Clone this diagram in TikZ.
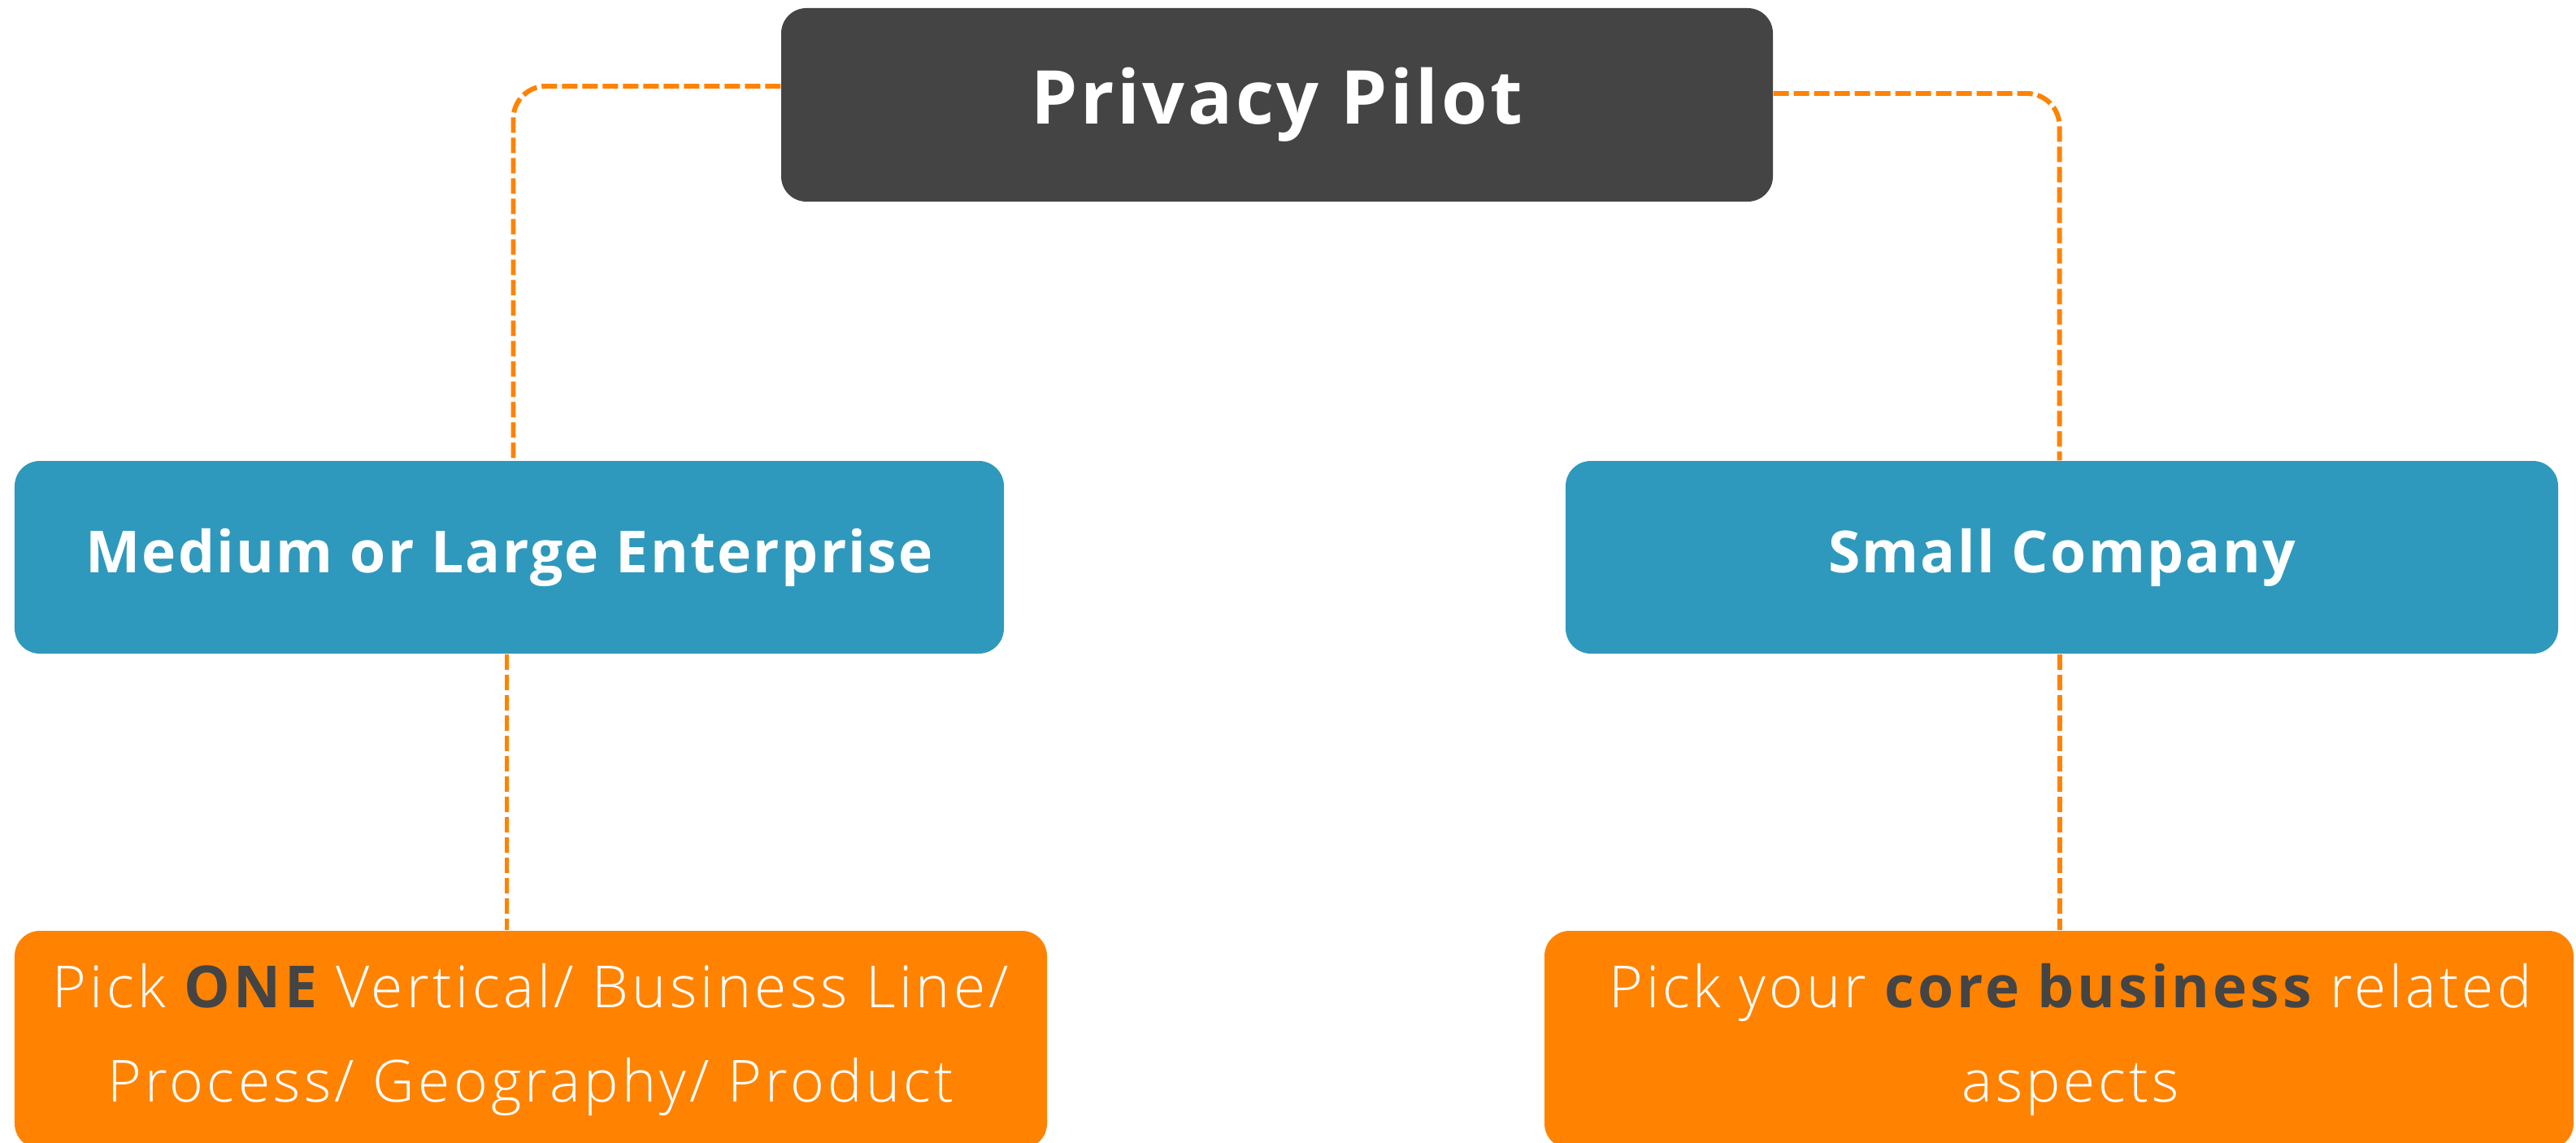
\documentclass[tikz,border=0pt]{standalone}
\usepackage{fontspec}
\setmainfont{Open Sans}
\newfontfamily\lightfont{Open Sans Light}
\usetikzlibrary{positioning}
\definecolor{pilotgray}{HTML}{444444}
\definecolor{sizeblue}{HTML}{2E99BC}
\definecolor{pickorange}{HTML}{FF8300}

\begin{document}
\begin{tikzpicture}[
  box/.style={rounded corners=0.31cm, inner sep=0pt, align=center, text=white},
  link/.style={draw=pickorange, line width=1.7pt, dash pattern=on 0.19cm off 0.06cm, rounded corners=0.4cm}
]
\useasboundingbox (0, 0) rectangle (31.69, -14.06);

\node (pilot)[box, fill=pilotgray, minimum width=12.2cm, minimum height=2.38cm, font=\bfseries\fontsize{26}{30}\selectfont\addfontfeatures{LetterSpace=3.8}] at (15.71, -1.29) {Privacy Pilot};

\node (medium)[box, fill=sizeblue, minimum width=12.17cm, minimum height=2.37cm, font=\bfseries\fontsize{20.3}{24}\selectfont\addfontfeatures{LetterSpace=3.2}] at (6.265, -6.855) {Medium or Large Enterprise};
\node (small)[box, fill=sizeblue, minimum width=12.21cm, minimum height=2.37cm, font=\bfseries\fontsize{20.3}{24}\selectfont\addfontfeatures{LetterSpace=3.2}] at (25.365, -6.855) {Small Company};

\node (pickone)[box, fill=pickorange, minimum width=12.7cm, minimum height=2.68cm, font=\lightfont\fontsize{20.3}{33.2}\selectfont\addfontfeatures{LetterSpace=6.0}] at (6.53, -12.79) {Pick \textcolor{pilotgray}{\normalfont\bfseries\addfontfeatures{LetterSpace=6.0}ONE} Vertical/ Business Line/\\Process/ Geography/ Product};
\node (pickcore)[box, fill=pickorange, minimum width=12.66cm, minimum height=2.68cm, font=\lightfont\fontsize{20.3}{33.2}\selectfont\addfontfeatures{LetterSpace=5.5}] at (25.33, -12.79) {\hspace*{0.28cm}Pick your \textcolor{pilotgray}{\normalfont\bfseries\addfontfeatures{LetterSpace=5.5}core business} related\\\hspace*{0.28cm}aspects};

\draw[link] ([yshift=0.23cm]pilot.west) -| ([xshift=0.05cm]medium.north);
\draw[link] ([yshift=0.14cm]pilot.east) -| ([xshift=-0.03cm]small.north);
\draw[link] ([xshift=-0.03cm]medium.south) -- ([xshift=-0.03cm]medium.south |- pickone.north);
\draw[link] ([xshift=-0.03cm]small.south) -- ([xshift=-0.03cm]small.south |- pickcore.north);
\end{tikzpicture}
\end{document}
